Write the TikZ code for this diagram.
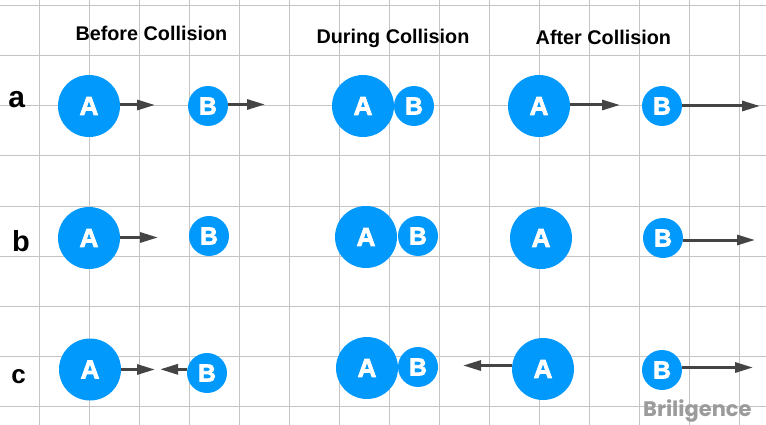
\documentclass[tikz,border=0pt]{standalone}
\usepackage{fontspec}
\setmainfont{Liberation Sans}
\newfontfamily\wmfont{Poppins}
\newfontfamily\ballfont{Liberation Sans Bold}[FakeBold=3]
\usetikzlibrary{arrows.meta}
\definecolor{ballblue}{RGB}{2,153,252}
\definecolor{gridgray}{RGB}{196,196,196}
\definecolor{arrowgray}{RGB}{68,68,68}
\definecolor{wmgray}{RGB}{155,155,155}
\begin{document}
\begin{tikzpicture}[x=1pt,y=-1pt,
  bigball/.style={circle,fill=ballblue,minimum size=62pt,inner sep=0pt,text=white,font=\ballfont\fontsize{26}{26}\selectfont},
  smallball/.style={circle,fill=ballblue,minimum size=40pt,inner sep=0pt,text=white,font=\ballfont\fontsize{24.5}{24.5}\selectfont},
  title/.style={anchor=base west,inner sep=0pt,font=\fontsize{19.8}{19.8}\selectfont\bfseries},
  rowlabel/.style={anchor=base,inner sep=0pt},
  gridline/.style={gridgray,line width=1pt},
  vel/.style={draw=arrowgray,line width=3pt,-{Triangle[length=18pt,width=10pt]}}]
\useasboundingbox (0,0) rectangle (766,425);
\fill[white] (0,0) rectangle (766,425);
\foreach \x in {0,...,14} \draw[gridline] (39.5+50*\x,0) -- (39.5+50*\x,425);
\foreach \y in {0,...,8} \draw[gridline] (0,6+50*\y) -- (766,6+50*\y);

% titles
\node[title] (t1) at (75.3,40.5) {Before Collision};
\node[title] (t2) at (316.3,43.3) {During Collision};
\node[title] (t3) at (535.5,44.3) {After Collision};

% row labels
\node[rowlabel,font=\fontsize{30}{30}\selectfont\bfseries] (la) at (16.7,107.5) {a};
\node[rowlabel,font=\fontsize{29}{29}\selectfont\bfseries] (lb) at (21,251.7) {b};
\node[rowlabel,font=\fontsize{26}{26}\selectfont\bfseries] (lc) at (18.7,383.3) {c};

% row a
\node[bigball] (aA1) at (89,106) {A};
\node[smallball] (aB1) at (208,106) {B};
\node[bigball] (aA2) at (363,106) {A};
\node[smallball] (aB2) at (414,106) {B};
\node[bigball] (aA3) at (539,106) {A};
\node[smallball] (aB3) at (662,106) {B};
\coordinate (aA1t) at (155,105);
\coordinate (aB1t) at (265,104.5);
\coordinate (aA3t) at (620,105);
\coordinate (aB3t) at (760,106);
\draw[vel] (aA1.east |- aA1t) -- (aA1t);
\draw[vel] (aB1.east |- aB1t) -- (aB1t);
\draw[vel] (aA3.east |- aA3t) -- (aA3t);
\draw[vel] (aB3.east |- aB3t) -- (aB3t);

% row b
\node[bigball] (bA1) at (89,238) {A};
\node[smallball] (bB1) at (209,236) {B};
\node[bigball] (bA2) at (366,237) {A};
\node[smallball] (bB2) at (418,236) {B};
\node[bigball] (bA3) at (541,238) {A};
\node[smallball] (bB3) at (663,238) {B};
\coordinate (bA1t) at (158,237.5);
\coordinate (bB3t) at (755,240);
\draw[vel] (bA1.east |- bA1t) -- (bA1t);
\draw[vel] (bB3.east |- bB3t) -- (bB3t);

% row c
\node[bigball] (cA1) at (90,369.5) {A};
\node[smallball] (cB1) at (207,373) {B};
\node[bigball] (cA2) at (367,368) {A};
\node[smallball] (cB2) at (418,367) {B};
\node[bigball] (cA3) at (543,369) {A};
\node[smallball] (cB3) at (662,370) {B};
\coordinate (cA1t) at (155,369.5);
\coordinate (cB1t) at (160,369.3);
\coordinate (cA3t) at (463,365.5);
\coordinate (cB3t) at (753,367.5);
\draw[vel] (cA1.east |- cA1t) -- (cA1t);
\draw[vel] (cB1.west |- cB1t) -- (cB1t);
\draw[vel] (cA3.west |- cA3t) -- (cA3t);
\draw[vel] (cB3.east |- cB3t) -- (cB3t);

% watermark
\node[anchor=base west,inner sep=0pt,text=wmgray,font=\wmfont\fontsize{21}{21}\selectfont\bfseries] (wm) at (643,416.7) {Briligence};
\end{tikzpicture}
\end{document}
